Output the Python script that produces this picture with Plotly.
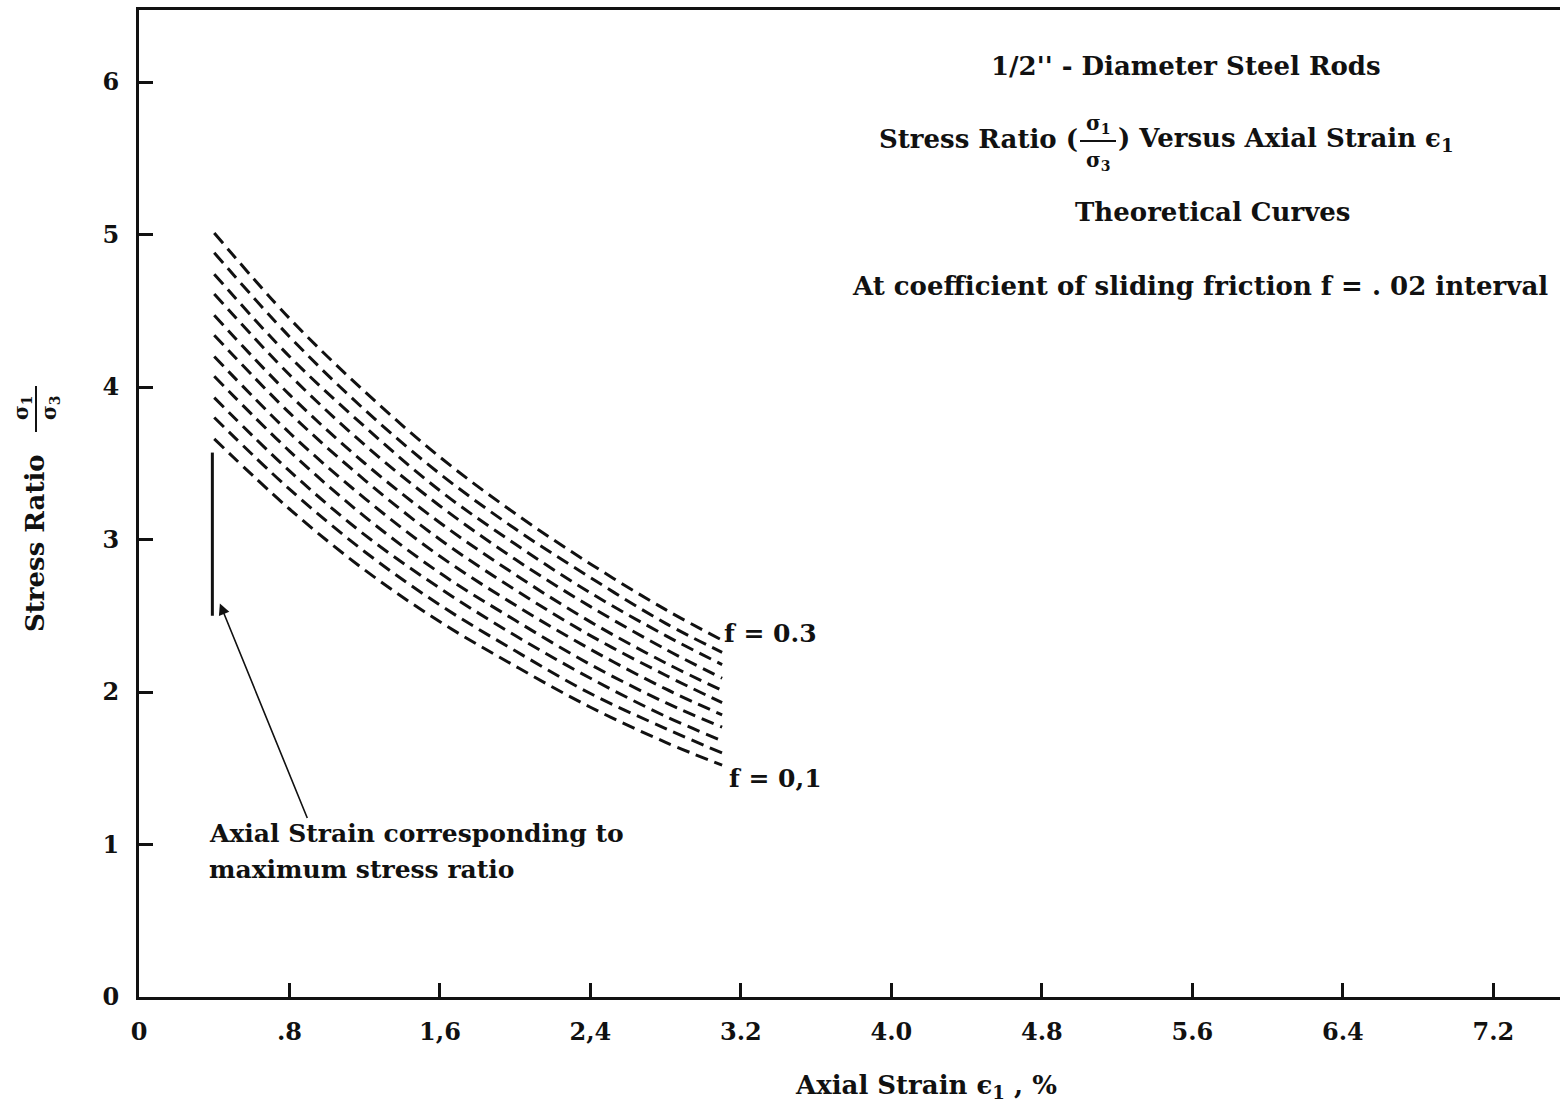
import plotly.graph_objects as go

# Theoretical stress-ratio curves for 1/2" steel rods, one per friction coefficient
friction = [0.10, 0.12, 0.14, 0.16, 0.18, 0.20, 0.22, 0.24, 0.26, 0.28, 0.30]
strain = [0.4, 0.8, 1.2, 1.6, 2.0, 2.4, 2.8, 3.1]  # axial strain, %
ratio_f010 = [3.66, 3.20, 2.80, 2.46, 2.17, 1.90, 1.67, 1.52]
ratio_f012 = [3.80, 3.33, 2.92, 2.57, 2.27, 1.99, 1.76, 1.60]
ratio_f014 = [3.93, 3.45, 3.03, 2.68, 2.37, 2.09, 1.84, 1.68]
ratio_f016 = [4.07, 3.58, 3.15, 2.78, 2.47, 2.18, 1.93, 1.77]
ratio_f018 = [4.20, 3.70, 3.27, 2.89, 2.57, 2.28, 2.02, 1.85]
ratio_f020 = [4.34, 3.83, 3.39, 3.00, 2.67, 2.37, 2.11, 1.93]
ratio_f022 = [4.47, 3.95, 3.50, 3.11, 2.77, 2.46, 2.19, 2.01]
ratio_f024 = [4.61, 4.08, 3.62, 3.22, 2.87, 2.56, 2.28, 2.09]
ratio_f026 = [4.74, 4.20, 3.74, 3.32, 2.97, 2.65, 2.37, 2.18]
ratio_f028 = [4.88, 4.33, 3.85, 3.43, 3.07, 2.75, 2.45, 2.26]
ratio_f030 = [5.01, 4.45, 3.97, 3.54, 3.17, 2.84, 2.54, 2.34]
curves = [ratio_f010, ratio_f012, ratio_f014, ratio_f016, ratio_f018, ratio_f020,
          ratio_f022, ratio_f024, ratio_f026, ratio_f028, ratio_f030]

# Strain at maximum stress ratio, drawn as a short vertical bar
peak_strain = [0.39, 0.39]
peak_span = [2.50, 3.57]

x_ticks = [0, 0.8, 1.6, 2.4, 3.2, 4.0, 4.8, 5.6, 6.4, 7.2]
x_tick_text = ["0", ".8", "1,6", "2,4", "3.2", "4.0", "4.8", "5.6", "6.4", "7.2"]
y_ticks = [0, 1, 2, 3, 4, 5, 6]
y_tick_text = ["0", "1", "2", "3", "4", "5", "6"]

W, H = 1560, 1110
L, R, T, B = 139, 1560, 10, 997
SERIF = "DejaVu Serif"
INK = "#111111"


def px(xp):
    return (xp - L) / (R - L)


def py(yp):
    return (B - yp) / (B - T)


fig = go.Figure()
for f, ys in zip(friction, curves):
    fig.add_trace(go.Scatter(
        x=strain, y=ys, mode="lines", name=f"f = {f:.2f}",
        line=dict(color=INK, width=3, dash="13px,7px", shape="spline", smoothing=1.0),
        showlegend=False, hoverinfo="skip"))

fig.add_trace(go.Scatter(
    x=peak_strain, y=peak_span, mode="lines",
    line=dict(color=INK, width=3), showlegend=False, hoverinfo="skip"))

big = dict(family=SERIF, size=26, color=INK, weight="bold")
font = dict(family=SERIF, size=25, color=INK, weight="bold")
small = dict(family=SERIF, size=20, color=INK, weight="bold")

ann = []


def text(xp, yp, s, f=font, xanchor="center", angle=0):
    ann.append(dict(x=px(xp), y=py(yp), xref="paper", yref="paper", text=s,
                    showarrow=False, font=f, xanchor=xanchor, yanchor="middle",
                    textangle=angle))


# Title block
text(1186, 66, "1/2'' - Diameter Steel Rods", f=big)
text(1080, 139, "Stress Ratio (", f=big, xanchor="right")
text(1116, 139, ") Versus Axial Strain \u03f5<sub>1</sub>", f=big, xanchor="left")
text(1098, 124, "\u03c3<sub>1</sub>", f=small)
text(1098, 161, "\u03c3<sub>3</sub>", f=small)
text(1212, 212, "Theoretical Curves", f=big)
text(1200, 286, "At coefficient of sliding friction f = . 02 interval", f=big)

# Curve end labels
text(722, 633, "f = 0.3", xanchor="left")
text(727, 778, "f = 0,1", xanchor="left")

# Note on the vertical bar
text(207, 833, "Axial Strain corresponding to", xanchor="left")
text(207, 869, "maximum stress ratio", xanchor="left")
ann.append(dict(x=0.43, y=2.58, xref="x", yref="y", ax=88, ay=216,
                axref="pixel", ayref="pixel", text="", showarrow=True,
                arrowhead=2, arrowsize=1.4, arrowwidth=1.6, arrowcolor=INK))

# Axis titles
text(926, 1086, "Axial Strain \u03f5<sub>1</sub> , %", f=big)
text(35, 543, "Stress Ratio", f=big, angle=-90)
text(22, 408, "\u03c3<sub>1</sub>", f=small, angle=-90)
text(50, 408, "\u03c3<sub>3</sub>", f=small, angle=-90)

fig.add_shape(type="line", xref="paper", yref="paper",
              x0=px(1080), x1=px(1116), y0=py(141), y1=py(141),
              line=dict(color=INK, width=2))
fig.add_shape(type="line", xref="paper", yref="paper",
              x0=px(36), x1=px(36), y0=py(386), y1=py(432),
              line=dict(color=INK, width=2))

fig.update_layout(
    width=W, height=H,
    margin=dict(l=L, r=W - R, t=T, b=H - B),
    paper_bgcolor="white", plot_bgcolor="white",
    annotations=ann,
    font=dict(family=SERIF, color=INK),
)
fig.update_xaxes(
    range=[0, (R - L) / 188.1], tickvals=x_ticks, ticktext=x_tick_text,
    ticks="inside", ticklen=14, tickwidth=2.5, tickcolor=INK,
    showline=True, linewidth=3, linecolor=INK, mirror=True,
    showgrid=False, zeroline=False, ticklabelstandoff=11,
    tickfont=dict(family=SERIF, size=24, color=INK, weight="bold"))
fig.update_yaxes(
    range=[0, (B - T) / 152.5], tickvals=y_ticks, ticktext=y_tick_text,
    ticks="inside", ticklen=14, tickwidth=2.5, tickcolor=INK,
    showline=True, linewidth=3, linecolor=INK,
    showgrid=False, zeroline=False, ticklabelstandoff=12,
    tickfont=dict(family=SERIF, size=24, color=INK, weight="bold"))

fig.write_html("out.html")
